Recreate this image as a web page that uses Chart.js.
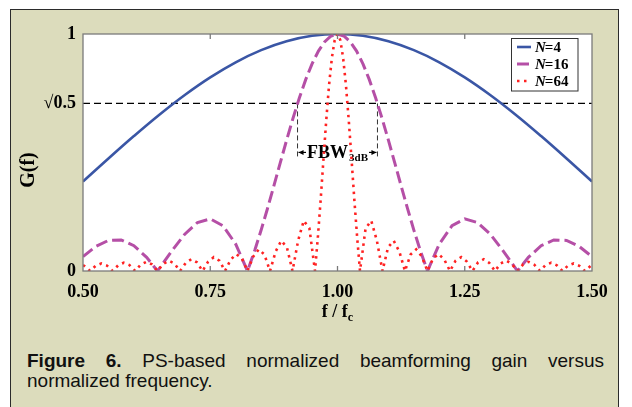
<!DOCTYPE html>
<html>
<head>
<meta charset="utf-8">
<script src="https://cdn.jsdelivr.net/npm/chart.js@4.4.1/dist/chart.umd.min.js"></script>
<style>
    html, body { margin: 0; padding: 0; background: #fff; width: 632px; height: 407px; overflow: hidden; }
    .frame { position: absolute; left: 10px; top: 9px; width: 609px; height: 420px; background: #dcdcbc; border: 1.5px solid #2b2b2b; box-sizing: border-box; }
    .caption { position: absolute; left: 27px; top: 351px; width: 577px; font-family: 'Liberation Sans', Arial, sans-serif; font-size: 19px; line-height: 20px; text-align: justify; text-align-last: left; color: #111; }
    #chart { position: absolute; left: 0; top: 0; }
</style>
</head>
<body>
<div class="frame"></div>
<div class="caption"><b>Figure 6.</b> PS-based normalized beamforming gain versus normalized frequency.</div>
<canvas id="chart" width="632" height="407"></canvas>
<script>
// Values (x = f / fc, y = normalized gain)
const seriesLabels = ['4', '16', '64'];
const seriesColors = ['#3a56a5', '#b54fa6', '#ff2222'];

const n4Freq = [0.50, 0.55, 0.60, 0.65, 0.70, 0.75, 0.80, 0.85, 0.90, 0.95, 1.00,
    1.05, 1.10, 1.15, 1.20, 1.25, 1.30, 1.35, 1.40, 1.45, 1.50];
const n4Gain = [0.3774, 0.4745, 0.5693, 0.6595, 0.7428, 0.8171, 0.8807, 0.9319, 0.9694, 0.9923, 1,
    0.9923, 0.9694, 0.9319, 0.8807, 0.8171, 0.7428, 0.6595, 0.5693, 0.4745, 0.3774];

const n16Freq = [0.5, 0.525, 0.55, 0.575, 0.6, 0.625, 0.6464, 0.675, 0.7, 0.725, 0.75, 0.775, 0.8, 0.8232,
    0.8375, 0.85, 0.8625, 0.875, 0.8875, 0.9, 0.9125, 0.925, 0.9375, 0.95, 0.9625, 0.975, 0.9875, 1.0,
    1.0125, 1.025, 1.0375, 1.05, 1.0625, 1.075, 1.0875, 1.1, 1.1125, 1.125, 1.1375, 1.15, 1.1625, 1.1768,
    1.2, 1.225, 1.25, 1.275, 1.3, 1.325, 1.3536, 1.375, 1.4, 1.425, 1.45, 1.475, 1.5];
const n16Gain = [0.0608, 0.1033, 0.1291, 0.1312, 0.1068, 0.0574, 0, 0.0860, 0.1555, 0.2047, 0.2198, 0.1910, 0.1138, 0,
    0.0876, 0.1727, 0.2639, 0.3593, 0.4562, 0.5519, 0.6440, 0.7300, 0.8074, 0.8741, 0.9280, 0.9675, 0.9918, 1,
    0.9918, 0.9675, 0.9280, 0.8741, 0.8074, 0.7300, 0.6440, 0.5519, 0.4562, 0.3593, 0.2639, 0.1727, 0.0876, 0,
    0.1138, 0.1910, 0.2198, 0.2047, 0.1555, 0.0860, 0, 0.0574, 0.1068, 0.1312, 0.1291, 0.1033, 0.0608];

const n64Freq = [0.5000, 0.5028, 0.5139, 0.5249, 0.5360, 0.5470, 0.5581, 0.5691, 0.5802, 0.5912, 0.6023,
    0.6133, 0.6244, 0.6354, 0.6464, 0.6575, 0.6686, 0.6796, 0.6906, 0.7017, 0.7127, 0.7238, 0.7348,
    0.7459, 0.7569, 0.7680, 0.7790, 0.7901, 0.8011, 0.8122, 0.8232, 0.8343, 0.8453, 0.8564, 0.8674,
    0.8785, 0.8895, 0.9006, 0.9116, 0.9227, 0.9337, 0.9448, 0.9558, 0.9613, 0.9669, 0.9724, 0.9779,
    0.9834, 0.9890, 0.9945, 1.0000,
    1.0055, 1.0110, 1.0166, 1.0221, 1.0276, 1.0331, 1.0387, 1.0442, 1.0552, 1.0663, 1.0773, 1.0884,
    1.0994, 1.1105, 1.1215, 1.1326, 1.1436, 1.1547, 1.1657, 1.1768, 1.1878, 1.1989, 1.2099, 1.2210,
    1.2320, 1.2431, 1.2541, 1.2652, 1.2762, 1.2873, 1.2983, 1.3094, 1.3204, 1.3314, 1.3425, 1.3536,
    1.3646, 1.3756, 1.3867, 1.3977, 1.4088, 1.4198, 1.4309, 1.4419, 1.4530, 1.4640, 1.4751, 1.4861,
    1.4972, 1.5000];
const n64Gain = [0.0247, 0.0211, 0, 0.0219, 0.0317, 0.0229, 0, 0.0240, 0.0348, 0.0252, 0,
    0.0265, 0.0386, 0.0280, 0, 0.0298, 0.0434, 0.0317, 0, 0.0340, 0.0498, 0.0366, 0,
    0.0397, 0.0586, 0.0434, 0, 0.0478, 0.0713, 0.0533, 0, 0.0604, 0.0914, 0.0695, 0,
    0.0821, 0.1276, 0.1002, 0, 0.1288, 0.2124, 0.1802, 0, 0.1393, 0.3002, 0.4706, 0.6367,
    0.7843, 0.9003, 0.9745, 1,
    0.9745, 0.9003, 0.7843, 0.6367, 0.4706, 0.3002, 0.1393, 0, 0.1802, 0.2124, 0.1288, 0,
    0.1002, 0.1276, 0.0821, 0, 0.0695, 0.0914, 0.0604, 0, 0.0533, 0.0713, 0.0478, 0,
    0.0434, 0.0586, 0.0397, 0, 0.0366, 0.0498, 0.0340, 0, 0.0317, 0.0434, 0.0298, 0,
    0.0280, 0.0386, 0.0265, 0, 0.0252, 0.0348, 0.0240, 0, 0.0229, 0.0317, 0.0219, 0,
    0.0211, 0.0247];

const xTickValues = [0.5, 0.75, 1.0, 1.25, 1.5];
const yTickValues = [0, 0.7071, 1];
const yTickLabels = ['0', '\u221A0.5', '1'];
const halfPowerLevel = 0.7071;
const fbwEdges = [0.9215, 1.0785];

const serif = "'Liberation Serif', 'Times New Roman', serif";

function toPoints(xs, ys) {
    return xs.map((x, i) => ({ x: x, y: ys[i] }));
}

const styles = [
    { width: 2.6, dash: [] },
    { width: 3, dash: [12, 5] },
    { width: 2.6, dash: [2.5, 4.5] }
];

// Extra drawing: plot frame, reference line, FBW marker, legend, axis titles
const figurePlugin = {
    id: 'figurePlugin',
    beforeDraw(chart) {
        const { ctx, chartArea: a } = chart;
        ctx.save();
        ctx.fillStyle = '#ffffff';
        ctx.fillRect(a.left, a.top, a.right - a.left, a.bottom - a.top);
        ctx.restore();
    },
    beforeDatasetsDraw(chart) {
        const { ctx, chartArea: a, scales } = chart;
        const yh = scales.y.getPixelForValue(halfPowerLevel);
        ctx.save();
        ctx.strokeStyle = '#000';
        ctx.lineWidth = 1.2;
        ctx.setLineDash([7, 4]);
        ctx.beginPath();
        ctx.moveTo(a.left, yh);
        ctx.lineTo(a.right, yh);
        ctx.stroke();

        // FBW 3dB marker
        const xl = scales.x.getPixelForValue(fbwEdges[0]);
        const xr = scales.x.getPixelForValue(fbwEdges[1]);
        const ya = yh + 49;
        ctx.strokeStyle = '#333';
        ctx.lineWidth = 1;
        ctx.setLineDash([5, 3]);
        [xl, xr].forEach(x => {
            ctx.beginPath();
            ctx.moveTo(x, yh);
            ctx.lineTo(x, ya + 5);
            ctx.stroke();
        });
        ctx.setLineDash([]);

        ctx.font = 'bold 18px ' + serif;
        const wMain = ctx.measureText('FBW').width;
        ctx.font = 'bold 11px ' + serif;
        const wSub = ctx.measureText('3dB').width;
        const tx = (xl + xr) / 2 - (wMain + wSub + 1) / 2;
        ctx.fillStyle = '#000';
        ctx.textBaseline = 'alphabetic';
        ctx.font = 'bold 18px ' + serif;
        ctx.fillText('FBW', tx, ya + 6);
        ctx.font = 'bold 11px ' + serif;
        ctx.fillText('3dB', tx + wMain + 1, ya + 9);

        ctx.strokeStyle = '#000';
        ctx.lineWidth = 1.2;
        const arrow = (x0, x1) => {
            ctx.beginPath();
            ctx.moveTo(x0, ya);
            ctx.lineTo(x1, ya);
            ctx.stroke();
            const dir = x0 < x1 ? -1 : 1;
            ctx.beginPath();
            ctx.moveTo(x0, ya);
            ctx.lineTo(x0 - dir * 5, ya - 2.5);
            ctx.lineTo(x0 - dir * 5, ya + 2.5);
            ctx.closePath();
            ctx.fill();
        };
        arrow(xl + 1, tx - 1);
        arrow(xr - 1, tx + wMain + wSub + 2);
        ctx.restore();
    },
    afterDraw(chart) {
        const { ctx, chartArea: a, scales } = chart;
        ctx.save();
        // plot frame + inner ticks
        ctx.strokeStyle = '#7a7a7a';
        ctx.lineWidth = 1.3;
        ctx.strokeRect(a.left, a.top, a.right - a.left, a.bottom - a.top);
        xTickValues.slice(1, -1).forEach(v => {
            const x = scales.x.getPixelForValue(v);
            ctx.beginPath();
            ctx.moveTo(x, a.bottom);
            ctx.lineTo(x, a.bottom - 5);
            ctx.moveTo(x, a.top);
            ctx.lineTo(x, a.top + 5);
            ctx.stroke();
        });

        // legend inside plot
        const bx = 511.5, by = 38.5, bw = 66.5, bh = 52.5;
        ctx.fillStyle = '#fff';
        ctx.fillRect(bx, by, bw, bh);
        ctx.strokeStyle = '#333';
        ctx.lineWidth = 1;
        ctx.strokeRect(bx, by, bw, bh);
        seriesLabels.forEach((lab, i) => {
            const y = 47 + i * 17;
            ctx.strokeStyle = seriesColors[i];
            ctx.lineWidth = styles[i].width;
            ctx.setLineDash(styles[i].dash);
            ctx.beginPath();
            ctx.moveTo(517, y);
            ctx.lineTo(531, y);
            ctx.stroke();
            ctx.setLineDash([]);
            ctx.fillStyle = '#000';
            ctx.textBaseline = 'middle';
            ctx.font = 'italic bold 15px ' + serif;
            ctx.fillText('N', 535, y + 1);
            const wn = ctx.measureText('N').width;
            ctx.font = 'bold 15px ' + serif;
            ctx.fillText('=' + lab, 535 + wn - 1, y + 1);
        });

        // axis titles
        ctx.fillStyle = '#000';
        ctx.textBaseline = 'alphabetic';
        ctx.font = 'bold 18px ' + serif;
        const wf = ctx.measureText('f / f').width;
        ctx.font = 'bold 12px ' + serif;
        const wc = ctx.measureText('c').width;
        const cx = (a.left + a.right) / 2 - (wf + wc) / 2;
        ctx.font = 'bold 18px ' + serif;
        ctx.fillText('f / f', cx, 317);
        ctx.font = 'bold 12px ' + serif;
        ctx.fillText('c', cx + wf, 321);

        ctx.translate(34, 170);
        ctx.rotate(-Math.PI / 2);
        ctx.textAlign = 'center';
        ctx.font = 'bold 20px ' + serif;
        ctx.fillText('G(f)', 0, 0);
        ctx.restore();
    }
};

const datasets = [
    { label: 'N=4', data: toPoints(n4Freq, n4Gain), tension: 0.4, order: 3 },
    { label: 'N=16', data: toPoints(n16Freq, n16Gain), tension: 0, order: 2 },
    { label: 'N=64', data: toPoints(n64Freq, n64Gain), tension: 0, order: 1 }
].map((d, i) => ({
    ...d,
    borderColor: seriesColors[i],
    borderWidth: styles[i].width,
    borderDash: styles[i].dash,
    pointRadius: 0,
    fill: false
}));

new Chart(document.getElementById('chart'), {
    type: 'line',
    data: { datasets },
    options: {
        responsive: false,
        animation: false,
        layout: { padding: { top: 34, right: 40, left: 0, bottom: 0 } },
        plugins: { legend: { display: false }, tooltip: { enabled: false } },
        scales: {
            x: {
                type: 'linear',
                min: 0.5,
                max: 1.5,
                grid: { display: false, drawTicks: false },
                border: { display: false },
                afterBuildTicks: s => { s.ticks = xTickValues.map(v => ({ value: v })); },
                afterFit: s => { s.height = 136; },
                ticks: {
                    autoSkip: false,
                    maxRotation: 0,
                    padding: 11,
                    color: '#000',
                    font: { family: serif, size: 18, weight: 'bold' },
                    callback: v => Number(v).toFixed(2)
                }
            },
            y: {
                min: 0,
                max: 1,
                grid: { display: false, drawTicks: false },
                border: { display: false },
                afterBuildTicks: s => { s.ticks = yTickValues.map(v => ({ value: v })); },
                afterFit: s => { s.width = 83; },
                ticks: {
                    autoSkip: false,
                    padding: 7,
                    color: '#000',
                    font: { family: serif, size: 18, weight: 'bold' },
                    callback: (v, i) => yTickLabels[i]
                }
            }
        }
    },
    plugins: [figurePlugin]
});
</script>
</body>
</html>
